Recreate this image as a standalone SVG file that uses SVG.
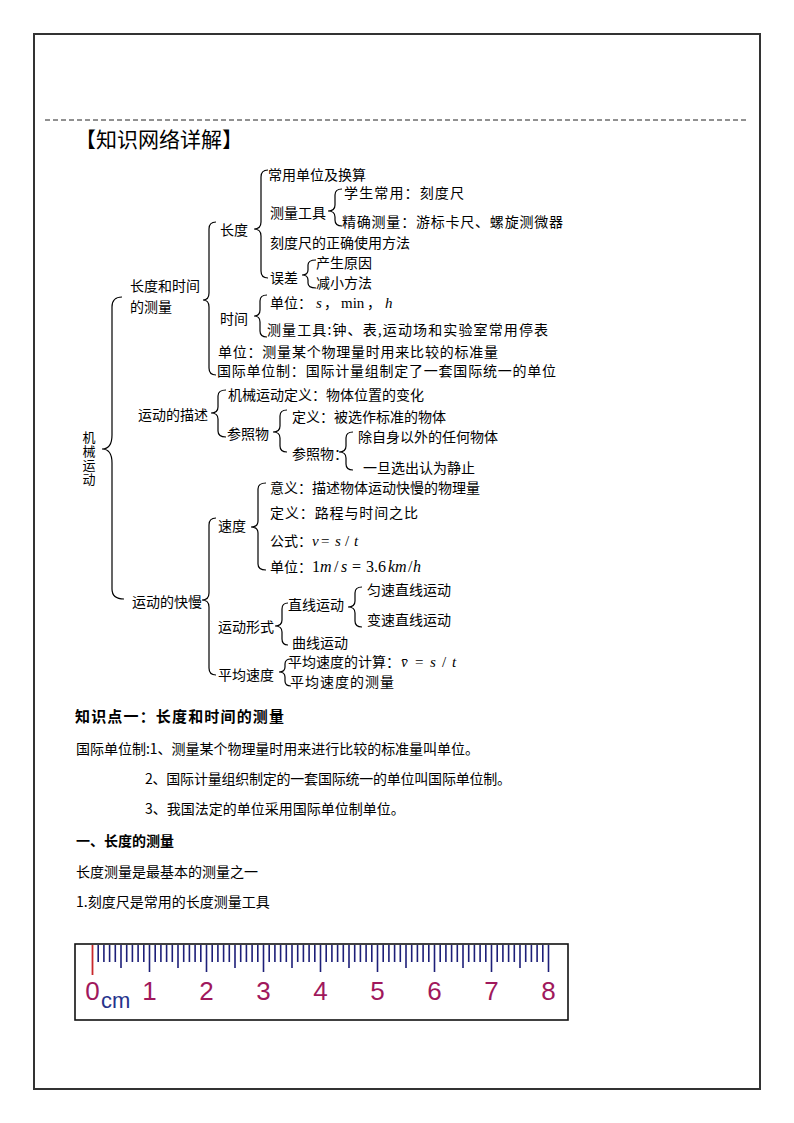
<svg xmlns="http://www.w3.org/2000/svg" width="794" height="1123" viewBox="0 0 794 1123">
<style>
.t{font-family:"Noto Sans CJK SC","Noto Sans",sans-serif;font-size:14px;fill:#000;dominant-baseline:central}
.a{font-family:"Noto Sans CJK SC","Noto Sans",sans-serif;font-size:14px;fill:#000}
.v{font-family:"Noto Sans CJK SC","Noto Sans",sans-serif;font-size:13px;fill:#000;writing-mode:vertical-rl;letter-spacing:1px}
.b{font-weight:bold}
.m{font-family:"Liberation Serif","Times New Roman",serif;font-size:15px}
.m16{font-family:"Liberation Serif","Times New Roman",serif;font-size:16px}
.i{font-style:italic}
.br{fill:none;stroke:#000;stroke-width:1.2}
.tk{stroke:#1d1f78;stroke-width:1.6;fill:none}
.num{font-family:"Liberation Sans",Arial,sans-serif;font-size:26px;fill:#a0185c;text-anchor:middle}
</style>
<rect width="794" height="1123" fill="#fff"/>
<rect x="34" y="34" width="726" height="1055" fill="none" stroke="#333" stroke-width="2"/>
<line x1="45" y1="120" x2="747" y2="120" stroke="#222" stroke-width="1" stroke-dasharray="5 3"/>
<g id="title"><text class="t" x="75" y="138" style="font-size:21px">【知识网络详解】</text></g>

<g id="connectors">
<path class="br" d="M122 297 Q112 297 112 307 L112 435 Q112 449 102 449 Q112 449 112 463 L112 589 Q112 599 124 599"/>
<path class="br" d="M216 222 Q209 222 209 229 L209 293 Q209 300 203 300 Q209 300 209 307 L209 368 Q209 375 216 375"/>
<path class="br" d="M268 170 Q261 170 261 177 L261 222 Q261 229 254 229 Q261 229 261 236 L261 271 Q261 278 268 278"/>
<path class="br" d="M342 189 Q335 189 335 195 L335 205 Q335 211 328 211 Q335 211 335 217 L335 220 Q335 226 342 226"/>
<path class="br" d="M316 260 Q308 260 308 265 L308 270 Q308 275 302 275 Q308 275 308 280 L308 283 Q308 288 316 288"/>
<path class="br" d="M267 295 Q260 295 260 301 L260 310 Q260 316 254 316 Q260 316 260 322 L260 331 Q260 337 267 337"/>
<path class="br" d="M226 390 Q218 390 218 396 L218 407 Q218 413 211 413 Q218 413 218 419 L218 431 Q218 437 226 437"/>
<path class="br" d="M287 410 Q280 410 280 416 L280 426 Q280 432 273 432 Q280 432 280 438 L280 446 Q280 452 287 452"/>
<path class="br" d="M353 432 Q346 432 346 438 L346 446 Q346 452 339 452 Q346 452 346 458 L346 464 Q346 470 353 470"/>
<path class="br" d="M266 483 Q258 483 258 489 L258 521 Q258 527 251 527 Q258 527 258 533 L258 564 Q258 570 266 570"/>
<path class="br" d="M216 518 Q209 518 209 525 L209 593 Q209 600 202 600 Q209 600 209 607 L209 668 Q209 675 216 675"/>
<path class="br" d="M288 603 Q282 603 282 609 L282 620 Q282 626 275 626 Q282 626 282 632 L282 639 Q282 645 288 645"/>
<path class="br" d="M362 587 Q355 587 355 593 L355 601 Q355 607 348 607 Q355 607 355 613 L355 621 Q355 627 362 627"/>
<path class="br" d="M291 659 Q285 659 285 664 L285 667 Q285 672 279 672 Q285 672 285 677 L285 681 Q285 686 291 686"/>
</g>

<g id="n-root"><text class="v" x="89" y="431">机械运动</text></g>
<g id="n-measure"><text class="t" x="130" y="285">长度和时间</text><text class="t" x="130" y="306">的测量</text></g>
<g id="n-length"><text class="t" x="220" y="229">长度</text></g>
<g id="n-units"><text class="t" x="268" y="174">常用单位及换算</text></g>
<g id="n-tools"><text class="t" x="270" y="212">测量工具</text></g>
<g id="n-student"><text class="t" x="344" y="192" textLength="120">学生常用：刻度尺</text></g>
<g id="n-precise"><text class="t" x="342" y="221" textLength="221">精确测量：游标卡尺、螺旋测微器</text></g>
<g id="n-ruleruse"><text class="t" x="270" y="242">刻度尺的正确使用方法</text></g>
<g id="n-error"><text class="t" x="270" y="277">误差</text></g>
<g id="n-cause"><text class="t" x="316" y="262">产生原因</text></g>
<g id="n-reduce"><text class="t" x="316" y="282">减小方法</text></g>
<g id="n-time"><text class="t" x="220" y="318">时间</text></g>
<g id="n-timeunit"><text class="a" x="270" y="307.5">单位：<tspan x="316" class="m i">s</tspan><tspan x="324">，</tspan><tspan x="341" class="m">min</tspan><tspan x="367">，</tspan><tspan x="385" class="m i">h</tspan></text></g>
<g id="n-timetool"><text class="t" x="267" y="329" textLength="281">测量工具:钟、表,运动场和实验室常用停表</text></g>
<g id="n-unitdef"><text class="t" x="218" y="351" textLength="280">单位：测量某个物理量时用来比较的标准量</text></g>
<g id="n-si"><text class="t" x="217" y="370" textLength="339">国际单位制：国际计量组制定了一套国际统一的单位</text></g>

<g id="n-describe"><text class="t" x="138" y="414">运动的描述</text></g>
<g id="n-mechdef"><text class="t" x="228" y="394">机械运动定义：物体位置的变化</text></g>
<g id="n-ref"><text class="t" x="227" y="433">参照物</text></g>
<g id="n-refdef"><text class="t" x="292" y="416">定义：被选作标准的物体</text></g>
<g id="n-ref2"><text class="t" x="292" y="453">参照物：</text></g>
<g id="n-anyobj"><text class="t" x="358" y="436">除自身以外的任何物体</text></g>
<g id="n-static"><text class="t" x="363" y="467">一旦选出认为静止</text></g>

<g id="n-speedy"><text class="t" x="132" y="601">运动的快慢</text></g>
<g id="n-speed"><text class="t" x="218" y="525">速度</text></g>
<g id="n-meaning"><text class="t" x="270" y="487">意义：描述物体运动快慢的物理量</text></g>
<g id="n-speeddef"><text class="t" x="270" y="512" textLength="148">定义：路程与时间之比</text></g>
<g id="n-formula"><text class="a" x="270" y="546">公式：<tspan x="312" class="m i">v</tspan><tspan x="321" class="m">=</tspan><tspan x="335" class="m i">s</tspan><tspan x="345" class="m">/</tspan><tspan x="354" class="m i">t</tspan></text></g>
<g id="n-speedunit"><text class="a" x="270" y="572">单位：<tspan x="312" class="m16">1</tspan><tspan x="320" class="m16 i">m</tspan><tspan x="334" class="m16">/</tspan><tspan x="341" class="m16 i">s</tspan><tspan x="352" class="m16">=</tspan><tspan x="366" class="m16">3.6</tspan><tspan x="388" class="m16 i">km</tspan><tspan x="408" class="m16">/</tspan><tspan x="413" class="m16 i">h</tspan></text></g>
<g id="n-form"><text class="t" x="218" y="626">运动形式</text></g>
<g id="n-straight"><text class="t" x="288" y="604">直线运动</text></g>
<g id="n-uniform"><text class="t" x="367" y="589">匀速直线运动</text></g>
<g id="n-variable"><text class="t" x="367" y="619">变速直线运动</text></g>
<g id="n-curve"><text class="t" x="292" y="642">曲线运动</text></g>
<g id="n-avg"><text class="t" x="218" y="674">平均速度</text></g>
<g id="n-avgcalc"><text class="a" x="288" y="667">平均速度的计算：<tspan x="401" class="m i">v̄</tspan><tspan x="415" class="m">=</tspan><tspan x="430" class="m i">s</tspan><tspan x="442" class="m">/</tspan><tspan x="452" class="m i">t</tspan></text></g>
<g id="n-avgmeas"><text class="t" x="290" y="681" textLength="104">平均速度的测量</text></g>

<g id="body">
<text class="t b" x="75" y="715.5" style="font-size:15px" textLength="209">知识点一：长度和时间的测量</text>
<text class="t" x="76" y="748" textLength="403">国际单位制:1、测量某个物理量时用来进行比较的标准量叫单位。</text>
<text class="t" x="145" y="778" textLength="366">2、国际计量组织制定的一套国际统一的单位叫国际单位制。</text>
<text class="t" x="145" y="808">3、我国法定的单位采用国际单位制单位。</text>
<text class="t b" x="76" y="840">一、长度的测量</text>
<text class="t" x="76" y="871">长度测量是最基本的测量之一</text>
<text class="t" x="76" y="901">1.刻度尺是常用的长度测量工具</text>
</g>

<g id="ruler">
<rect x="75" y="944" width="493" height="76" fill="#fff" stroke="#111" stroke-width="1.6"/>
<path class="tk" d="M98.2 945v17M103.9 945v17M109.6 945v17M115.3 945v17M126.7 945v17M132.4 945v17M138.1 945v17M143.8 945v17M155.2 945v17M160.9 945v17M166.6 945v17M172.3 945v17M183.7 945v17M189.4 945v17M195.1 945v17M200.8 945v17M212.2 945v17M217.9 945v17M223.6 945v17M229.3 945v17M240.7 945v17M246.4 945v17M252.1 945v17M257.8 945v17M269.2 945v17M274.9 945v17M280.6 945v17M286.3 945v17M297.7 945v17M303.4 945v17M309.1 945v17M314.8 945v17M326.2 945v17M331.9 945v17M337.6 945v17M343.3 945v17M354.7 945v17M360.4 945v17M366.1 945v17M371.8 945v17M383.2 945v17M388.9 945v17M394.6 945v17M400.3 945v17M411.7 945v17M417.4 945v17M423.1 945v17M428.8 945v17M440.2 945v17M445.9 945v17M451.6 945v17M457.3 945v17M468.7 945v17M474.4 945v17M480.1 945v17M485.8 945v17M497.2 945v17M502.9 945v17M508.6 945v17M514.3 945v17M525.7 945v17M531.4 945v17M537.1 945v17M542.8 945v17"/>
<path class="tk" d="M121 945v23M178 945v23M235 945v23M292 945v23M349 945v23M406 945v23M463 945v23M520 945v23"/>
<path class="tk" d="M149.5 945v27M206.5 945v27M263.5 945v27M320.5 945v27M377.5 945v27M434.5 945v27M491.5 945v27M548.5 945v27"/>
<path d="M92.5 945v30" stroke="#c8282c" stroke-width="1.8"/>
<text class="num" x="92.5" y="1000">0</text>
<text x="101" y="1008" style="font-family:'Liberation Sans',Arial,sans-serif;font-size:22px;fill:#26338c">cm</text>
<text class="num" x="149.5" y="1000">1</text>
<text class="num" x="206.5" y="1000">2</text>
<text class="num" x="263.5" y="1000">3</text>
<text class="num" x="320.5" y="1000">4</text>
<text class="num" x="377.5" y="1000">5</text>
<text class="num" x="434.5" y="1000">6</text>
<text class="num" x="491.5" y="1000">7</text>
<text class="num" x="548.5" y="1000">8</text>
</g>
</svg>
